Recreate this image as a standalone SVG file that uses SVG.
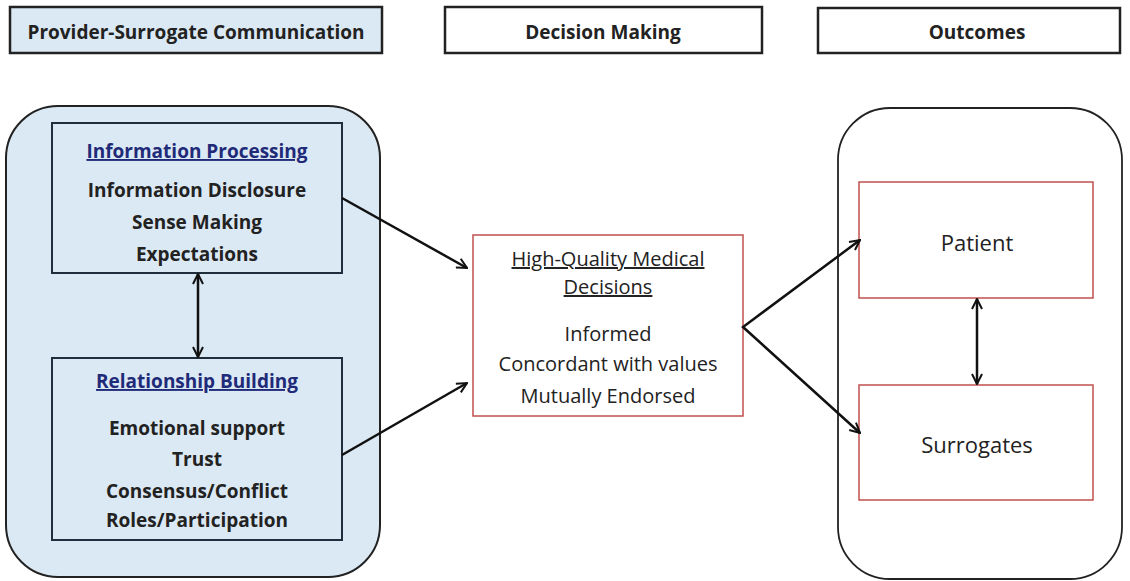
<svg xmlns="http://www.w3.org/2000/svg" width="1130" height="581" viewBox="0 0 1130 581">
<style>
.hdr{stroke:#222;stroke-width:2.5}
.t{font-family:"Open Sans",Lato,sans-serif;text-anchor:middle;fill:#222}
.b{font-weight:bold;font-size:19px}
.ttl{fill:#1f2a78;text-decoration:underline;font-weight:bold;font-size:19px}
.r{font-size:20px}
.red{fill:#fff;stroke:#c0504d;stroke-width:1.5}
.blue{fill:#dbe9f4;stroke:#1f2d3d;stroke-width:2}
.c{stroke:#111;stroke-width:2.5;fill:none}
</style>
<defs>
<marker id="ah" viewBox="0 0 12 12" refX="11" refY="6" markerWidth="12" markerHeight="12" markerUnits="userSpaceOnUse" orient="auto-start-reverse">
<path d="M1,1 L11,6 L1,11" fill="none" stroke="#111" stroke-width="2"/>
</marker>
</defs>
<rect width="1130" height="581" fill="#fff"/>
<g id="hdr-comm">
<rect class="hdr" x="10" y="7" width="372" height="46" fill="#dbe9f4"/>
<text class="t b" x="196" y="39">Provider-Surrogate Communication</text>
</g>
<g id="hdr-decision">
<rect class="hdr" x="445" y="7" width="317" height="46" fill="#fff"/>
<text class="t b" x="603" y="39">Decision Making</text>
</g>
<g id="hdr-outcomes">
<rect class="hdr" x="818" y="8" width="302" height="45" fill="#fff"/>
<text class="t b" x="977" y="39">Outcomes</text>
</g>
<g id="comm-group">
<rect x="6" y="106" width="374" height="471" rx="52" ry="52" fill="#dbe9f4" stroke="#222" stroke-width="2"/>
</g>
<g id="info-processing">
<rect class="blue" x="52" y="123" width="290" height="150"/>
<text class="t ttl" x="197" y="158">Information Processing</text>
<text class="t b" x="197" y="197">Information Disclosure</text>
<text class="t b" x="197" y="229">Sense Making</text>
<text class="t b" x="197" y="261">Expectations</text>
</g>
<g id="relationship-building">
<rect class="blue" x="52" y="358" width="290" height="182"/>
<text class="t ttl" x="197" y="388">Relationship Building</text>
<text class="t b" x="197" y="435">Emotional support</text>
<text class="t b" x="197" y="466">Trust</text>
<text class="t b" x="197" y="498">Consensus/Conflict</text>
<text class="t b" x="197" y="527">Roles/Participation</text>
</g>
<g id="decisions">
<rect class="red" x="473" y="235" width="270" height="181"/>
<text class="t r" x="608" y="266" text-decoration="underline">High-Quality Medical</text>
<text class="t r" x="608" y="294" text-decoration="underline">Decisions</text>
<text class="t r" x="608" y="341">Informed</text>
<text class="t r" x="608" y="371">Concordant with values</text>
<text class="t r" x="608" y="403">Mutually Endorsed</text>
</g>
<g id="outcomes-group">
<rect x="838" y="108" width="284" height="471" rx="52" ry="52" fill="#fff" stroke="#222" stroke-width="1.8"/>
</g>
<g id="patient">
<rect class="red" x="859" y="182" width="234" height="116"/>
<text class="t" x="977" y="251" font-size="22">Patient</text>
</g>
<g id="surrogates">
<rect class="red" x="859" y="385" width="234" height="115"/>
<text class="t" x="977" y="453" font-size="22">Surrogates</text>
</g>
<g id="connectors">
<line class="c" x1="198" y1="274" x2="198" y2="357" marker-start="url(#ah)" marker-end="url(#ah)"/>
<line class="c" x1="342" y1="198" x2="467" y2="268" marker-end="url(#ah)"/>
<line class="c" x1="342" y1="455" x2="467" y2="383" marker-end="url(#ah)"/>
<polyline class="c" points="860,240 743,327 860,433" marker-start="url(#ah)" marker-end="url(#ah)"/>
<line class="c" x1="977" y1="299" x2="977" y2="384" marker-start="url(#ah)" marker-end="url(#ah)"/>
</g>
</svg>
